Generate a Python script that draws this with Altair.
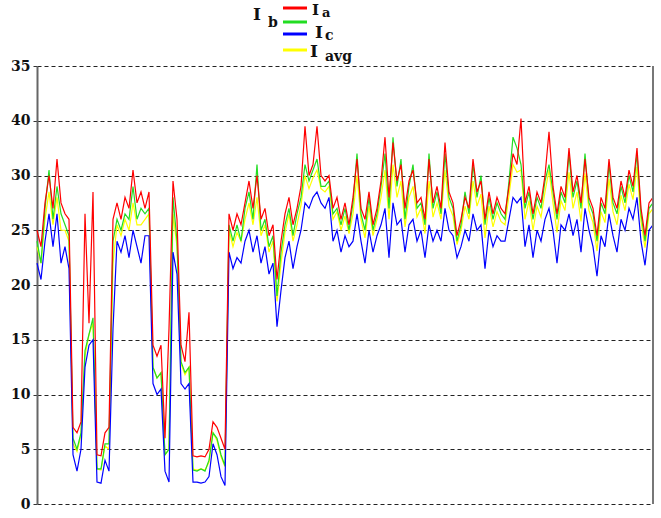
import altair as alt
import pandas as pd

# sample index (time steps)
t = list(range(155))

ia = [25, 23.5, 27.5, 30, 27, 31.5, 27.5, 26.5, 26, 7,
      6.5, 7.5, 26.5, 16.5, 28.5, 4.5, 4.4, 6.5, 7, 26,
      27.5, 26, 28, 27, 30.5, 27.5, 28.5, 27, 28.5, 14.5,
      13.5, 14.5, 6, 16, 29.5, 26, 14.5, 13, 17.5, 4.4,
      4.3, 4.4, 4.3, 5, 7.5, 7, 6, 5, 26.5, 25,
      26.5, 25.5, 27.5, 29.5, 27, 30, 26, 27, 24.5, 25.5,
      20.5, 24, 26.5, 28, 25.5, 27, 29, 34.5, 30, 31,
      34.5, 30, 29.5, 30, 27, 28, 26, 27.5, 25.5, 28,
      31.5, 27, 26, 28.5, 25.5, 27, 29.5, 33.5, 28, 33,
      29.5, 31, 27, 29.5, 30.5, 27.5, 28, 26, 31.5, 27.5,
      29, 27, 33, 28.5, 27.5, 24.5, 26, 28, 27, 31.5,
      28.5, 29.5, 26, 28.5, 26.5, 28, 27, 26.5, 29, 32,
      31, 35.2, 27.5, 29, 26.5, 28.5, 27.5, 30, 34, 29,
      26.5, 29, 28, 32.5, 28.5, 30, 27.5, 31.5, 28, 27,
      24.5, 28, 27, 31.5, 28, 27, 29.5, 28, 30.5, 29,
      32.5, 27, 24.5, 27.5, 28]

ib = [24, 22, 27, 30.5, 26, 29, 26.5, 25.5, 24.5, 6,
      5, 6.5, 14, 15.5, 17, 3.2, 3.2, 5.5, 5.5, 24,
      26, 25, 26.5, 26, 29, 26, 27, 26.5, 27, 12.5,
      11.5, 12, 4.5, 5, 28, 24, 13, 12, 12.5, 3.1,
      3.0, 3.2, 3.0, 4, 6.5, 6, 4.5, 3.5, 25.5, 24,
      25.5, 24, 27, 28.5, 26, 31, 25, 26, 23.5, 24.5,
      19, 23, 25.5, 27, 24.5, 26.5, 28, 31, 29.5, 30.5,
      31.5, 29, 29, 29.5, 26.5, 27, 25.5, 27, 25, 27.5,
      32, 26.5, 25, 28, 25, 26.5, 29, 32, 27, 33.5,
      29, 31.5, 26, 29, 31, 27, 27.5, 25.5, 32, 27,
      28.5, 26.5, 32, 28, 27, 24, 25.5, 28.5, 26.5, 31,
      28, 30, 25.5, 28, 26, 27.5, 26.5, 26, 29.5, 33.5,
      32.5, 31, 27, 28.5, 26, 28, 27, 29.5, 31, 28.5,
      26, 28.5, 27.5, 32, 28, 29.5, 27, 32, 27.5, 26.5,
      24, 27.5, 26.5, 31, 27.5, 26.5, 29, 27.5, 30, 28.5,
      32, 26.5, 24, 27, 27.5]

ic = [22, 20.5, 24, 26.5, 23.5, 26.5, 22, 23.5, 21.5, 4.5,
      3, 5, 12.5, 14.5, 15, 2, 1.9, 4, 3, 16,
      24, 23, 24.5, 22.5, 25, 23.5, 22, 24.5, 24.5, 11,
      10, 10.5, 3, 2, 23, 21, 11, 10.5, 11, 2.0,
      2.0, 1.9, 2.0, 2.5, 5.5, 4.5, 2.5, 1.7, 23, 21.5,
      22.5, 22, 24, 25, 23, 24.5, 22, 23.5, 21, 22,
      16.2, 19.5, 22.5, 24, 21.5, 23.5, 25, 27.5, 27, 28,
      28.5, 27.5, 27, 28, 24, 25, 23, 24.5, 23.5, 24,
      26.5, 24, 22, 25, 23, 24.5, 25.5, 27, 22.5, 27.5,
      25.5, 26, 23, 25.5, 26, 24, 25, 22.5, 25.5, 24,
      25, 24, 27, 25, 24.5, 22.5, 23.5, 25, 24, 26.5,
      25, 25.5, 21.5, 25, 23.5, 24.5, 24, 24, 26, 28,
      27.5, 28, 23.5, 25.5, 22.5, 25, 24, 26, 27, 25,
      22, 25.5, 25, 26.5, 24.5, 26, 23, 27, 25, 23.5,
      20.8, 24.5, 23.5, 26.5, 24.5, 23, 26, 25, 27, 26,
      28, 24, 21.8, 25, 25.5]

iavg = [23.5, 22, 26, 28.5, 25.5, 28, 25, 25, 24, 5.5,
        4.8, 6.3, 13.5, 15.5, 16.5, 3.2, 3.1, 5.3, 5, 22,
        25.5, 24.5, 26, 25, 27.5, 25.5, 25.5, 26, 26.5, 12.5,
        11.5, 12, 4.5, 5, 26.5, 23.5, 12.8, 11.8, 12.5, 3.2,
        3.1, 3.2, 3.1, 3.8, 6.5, 5.8, 4.3, 3.4, 25, 23.5,
        24.8, 24, 26, 27.5, 25.5, 28, 24.5, 25.5, 23, 24,
        18.5, 22, 24.8, 26.5, 24, 25.5, 27.3, 30, 28.8, 29.8,
        30.5, 28.8, 28.5, 29, 26, 26.7, 25, 26.3, 24.7, 26.5,
        30, 26, 24.3, 27.2, 24.5, 26, 28, 30.5, 26, 31,
        28, 29.5, 25.3, 28, 29, 26.2, 27, 24.7, 29.5, 26.2,
        27.5, 26, 30.5, 27.2, 26.3, 23.7, 25, 27.2, 26, 29.5,
        27.2, 28.3, 24.3, 27.2, 25.3, 26.7, 25.8, 25.5, 28.2, 31,
        30.3, 30.5, 26, 27.7, 25, 27.2, 26.2, 28.5, 30.5, 27.5,
        24.8, 27.7, 26.8, 30.3, 27, 28.5, 25.8, 30.2, 26.8, 25.7,
        23.1, 26.7, 25.7, 29.7, 26.7, 25.5, 28.2, 26.8, 29.2, 27.8,
        30.8, 25.8, 23.4, 26.5, 27]

tick_values = [0, 5, 10, 15, 20, 25, 30, 35, 40]

df = pd.DataFrame({"t": t, "Ia": ia, "Ib": ib, "Ic": ic, "Iavg": iavg})
one = pd.DataFrame({"k": [0]})

W, H = 616, 438
FONT = "DejaVu Serif"

xenc = alt.X("t:Q", scale=alt.Scale(domain=[0, 154], nice=False, zero=False), axis=None)
yscale = alt.Scale(domain=[0, 40], nice=False)
yaxis = alt.Axis(
    values=tick_values,
    labelExpr="datum.value == 35 ? '40' : (datum.value == 40 ? '35' : datum.label)",
    grid=True, gridDash=[4, 3], gridColor="#222", gridWidth=1,
    domainColor="#666", domainWidth=2,
    tickColor="#333", tickSize=4, labelPadding=3,
    labelFont=FONT, labelFontWeight="bold", labelFontSize=14, labelColor="#111",
    title=None,
)


def series(col, color):
    return alt.Chart(df).mark_line(color=color, strokeWidth=1.2).encode(
        x=xenc,
        y=alt.Y(f"{col}:Q", scale=yscale, axis=yaxis, title=None),
    )


layers = [
    series("Iavg", "#ffff00"),
    series("Ib", "#22dd22"),
    series("Ic", "#0000ff"),
    series("Ia", "#ff0000"),
]

# right border
layers.append(
    alt.Chart(one).mark_rule(color="#777", strokeWidth=2).encode(
        x=alt.value(W), y=alt.value(0), y2=alt.value(H)
    )
)

# custom legend above the plot
leg_lines = [(-58, "#ff0000"), (-44, "#22dd22"), (-32, "#0000ff"), (-16, "#ffff00")]
for yy, c in leg_lines:
    layers.append(
        alt.Chart(one).mark_rule(color=c, strokeWidth=3).encode(
            x=alt.value(246), x2=alt.value(270), y=alt.value(yy)
        )
    )

leg_texts = [
    ("I", 275, -51, 15), ("a", 285, -49, 13),
    ("I", 216, -46, 17), ("b", 231, -39, 14),
    ("I", 278, -28, 17), ("c", 288, -26, 14),
    ("I", 273, -9, 17), ("avg", 288, -5, 14),
]
for txt, xx, yy, fs in leg_texts:
    layers.append(
        alt.Chart(one).mark_text(
            text=txt, font=FONT, fontWeight="bold", fontSize=fs,
            color="#111", align="left", baseline="alphabetic"
        ).encode(x=alt.value(xx), y=alt.value(yy))
    )

chart = alt.layer(*layers).properties(
    width=W, height=H,
    autosize=alt.AutoSizeParams(type="none"),
    padding={"left": 37, "top": 66, "right": 8, "bottom": 14},
    background="white",
).configure_view(stroke=None)

chart.save("out.html", embed_options={"renderer": "svg", "actions": False})
